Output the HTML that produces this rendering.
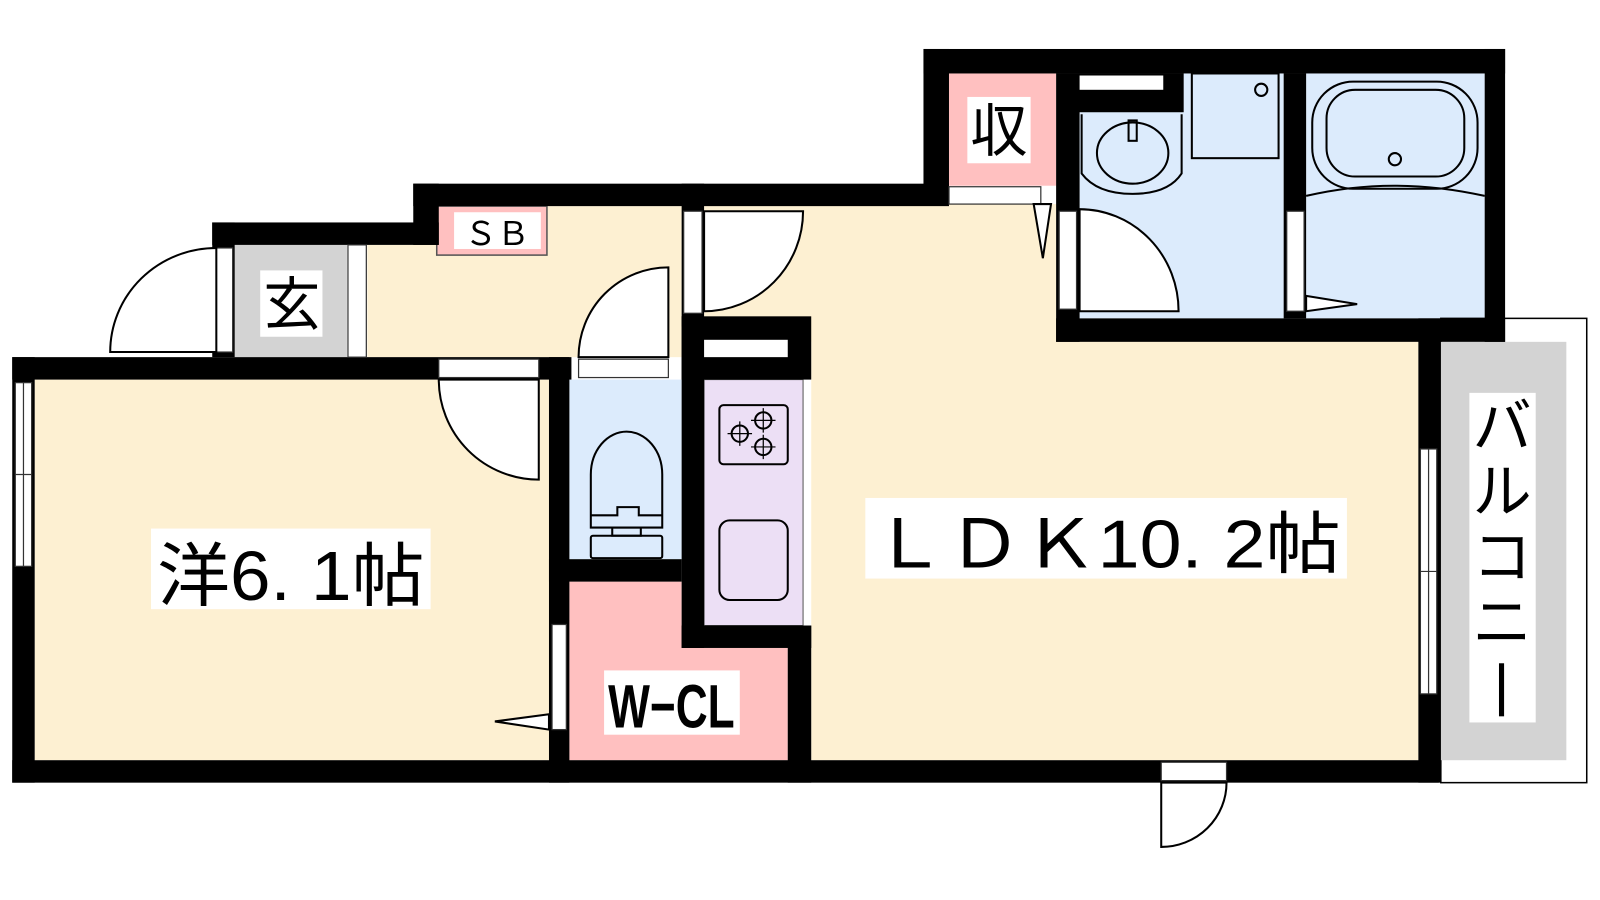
<!DOCTYPE html>
<html><head><meta charset="utf-8"><style>
html,body{margin:0;padding:0;background:#fff;}
svg{display:block}
text{font-family:"Liberation Sans","Noto Sans CJK JP",sans-serif;fill:#000}
</style></head><body>
<svg width="1600" height="900" viewBox="0 0 1568 882" xmlns="http://www.w3.org/2000/svg">
<rect width="1568" height="882" fill="#fff"/>
<!-- floors -->
<g>
<rect x="34" y="372" width="504" height="373" fill="#fdf0d2"/>
<rect x="430" y="202" width="238" height="148" fill="#fdf0d2"/>
<rect x="360" y="240" width="80" height="110" fill="#fdf0d2"/>
<rect x="230" y="240" width="110" height="110" fill="#d3d3d3"/>
<rect x="690" y="200" width="345" height="135" fill="#fdf0d2"/>
<rect x="795" y="330" width="595" height="415" fill="#fdf0d2"/>
<rect x="558" y="372" width="110" height="176" fill="#dcebfc"/>
<path d="M558 570 H668 V635 H772 V745 H558 Z" fill="#ffc0c0"/>
<rect x="690" y="372" width="97" height="241" fill="#ecdff5" stroke="#555" stroke-width="1"/>
<rect x="928" y="72" width="107" height="110" fill="#ffc0c0"/>
<rect x="1058" y="72" width="200" height="240" fill="#dcebfc"/>
<rect x="1280" y="72" width="175" height="240" fill="#dcebfc"/>
<rect x="1412" y="312" width="143" height="455" fill="#fff" stroke="#000" stroke-width="1.5"/>
<rect x="1412" y="335" width="123" height="410" fill="#d3d3d3"/>
<rect x="428" y="202" width="108" height="48" fill="#ffc0c0" stroke="#555" stroke-width="1.5"/>
</g>
<!-- walls -->
<g fill="#000">
<rect x="12" y="745" width="1398" height="22"/>
<rect x="12" y="350" width="22" height="417"/>
<rect x="12" y="350" width="548" height="22"/>
<rect x="538" y="350" width="20" height="417"/>
<rect x="538" y="548" width="130" height="22"/>
<rect x="668" y="310" width="22" height="325"/>
<rect x="668" y="310" width="127" height="62"/>
<rect x="668" y="613" width="127" height="22"/>
<rect x="772" y="613" width="23" height="154"/>
<rect x="208" y="218" width="22" height="132"/>
<rect x="208" y="218" width="222" height="22"/>
<rect x="405" y="180" width="25" height="60"/>
<rect x="405" y="180" width="525" height="22"/>
<rect x="668" y="180" width="22" height="140"/>
<rect x="905" y="48" width="570" height="24"/>
<rect x="905" y="48" width="25" height="152"/>
<rect x="1035" y="72" width="23" height="263"/>
<rect x="1035" y="312" width="440" height="23"/>
<rect x="1455" y="48" width="20" height="287"/>
<rect x="1258" y="72" width="22" height="240"/>
<rect x="1390" y="312" width="22" height="455"/>
<rect x="1040" y="72" width="120" height="38"/>
</g>
<!-- openings (white) -->
<g fill="#fff" stroke="#333" stroke-width="1.2">
<rect x="15" y="375" width="16" height="180"/>
<line x1="23" y1="375" x2="23" y2="555"/>
<line x1="15" y1="465" x2="31" y2="465"/>
<rect x="212" y="243" width="16" height="102"/>
<rect x="341" y="240" width="18" height="110"/>
<rect x="430" y="352" width="98" height="18"/>
<rect x="567" y="352" width="88" height="18"/>
<rect x="670" y="207" width="18" height="100"/>
<rect x="690" y="333" width="82" height="17" stroke="none"/>
<rect x="541" y="612" width="14" height="103"/>
<rect x="930" y="183" width="90" height="17"/>
<rect x="1058" y="74" width="82" height="14" stroke="none"/>
<rect x="1038" y="207" width="17" height="96"/>
<rect x="1261" y="207" width="17" height="98"/>
<rect x="1392" y="440" width="16" height="240"/>
<line x1="1400" y1="440" x2="1400" y2="680"/>
<line x1="1392" y1="560" x2="1408" y2="560"/>
<rect x="1138" y="747" width="64" height="18"/>
</g>
<!-- door swings -->
<g fill="#fff" stroke="#000" stroke-width="2">
<path d="M212 243 A104 102 0 0 0 108 345 H212 Z"/>
<path d="M528 470 A98 98 0 0 1 430 372 H528 Z"/>
<path d="M655 262 A88 88 0 0 0 567 350 H655 Z"/>
<path d="M787 207 A97 98 0 0 1 690 305 V207 Z"/>
<path d="M1058 205 A97 100 0 0 1 1155 305 H1058 Z"/>
<path d="M1138 830 A64 63 0 0 0 1202 767 H1138 Z"/>
<path d="M538 700 L485 707 L538 715 Z"/>
<path d="M1013 200 L1022 253 L1030 200 Z"/>
<path d="M1280 290 L1330 298 L1280 305 Z"/>
</g>
<!-- fixtures -->
<g fill="none" stroke="#000" stroke-width="2">
<rect x="705" y="397" width="67" height="58" rx="4"/>
<circle cx="725" cy="425" r="8"/><circle cx="748" cy="412" r="8"/><circle cx="748" cy="438" r="8"/>
<path d="M725 413v24M713 425h24M748 400v24M736 412h24M748 426v24M736 438h24" stroke-width="1.2"/>
<rect x="705" y="510" width="67" height="78" rx="10"/>
<path d="M579 517 V465 A35 42 0 0 1 649 465 V517 Z"/>
<path d="M579 505 H605 V497 H626 V505 H649"/>
<rect x="579" y="525" width="70" height="22" rx="2"/>
<rect x="600" y="517" width="28" height="8"/>
<path d="M1060 112 V170 Q1075 190 1110 190 Q1145 190 1158 170 V112"/>
<ellipse cx="1110" cy="150" rx="35" ry="30"/>
<rect x="1106" y="118" width="8" height="20"/>
<rect x="1168" y="72" width="85" height="83"/>
<circle cx="1236" cy="88" r="6"/>
<rect x="1286" y="80" width="162" height="105" rx="40"/>
<rect x="1300" y="88" width="135" height="85" rx="28"/>
<circle cx="1367" cy="156" r="6"/>
<path d="M1280 192 Q1365 172 1455 192"/>
</g>
<!-- labels -->
<g>
<rect x="445" y="208" width="85" height="36" fill="#fff"/>
<text x="487" y="240" font-size="32" text-anchor="middle">ＳＢ</text>
<rect x="255" y="265" width="61" height="65" fill="#fff"/>
<text x="286" y="318" font-size="56" text-anchor="middle">玄</text>
<rect x="948" y="95" width="62" height="65" fill="#fff"/>
<text x="979" y="148" font-size="56" text-anchor="middle">収</text>
<rect x="148" y="518" width="274" height="79" fill="#fff"/>
<text x="285" y="588" font-size="68" text-anchor="middle" textLength="262" lengthAdjust="spacingAndGlyphs">洋6. 1帖</text>
<rect x="848" y="488" width="472" height="79" fill="#fff"/>
<text x="1084" y="556" font-size="66" text-anchor="middle" textLength="460" lengthAdjust="spacingAndGlyphs">ＬＤＫ10. 2帖</text>
<rect x="592" y="657" width="133" height="63" fill="#fff"/>
<text x="658" y="713" font-size="60" font-weight="bold" text-anchor="middle" textLength="124" lengthAdjust="spacingAndGlyphs">W−CL</text>
<rect x="1440" y="385" width="65" height="323" fill="#fff"/>
<text x="1472" y="438" font-size="58" text-anchor="middle">バ</text>
<text x="1472" y="502" font-size="58" text-anchor="middle">ル</text>
<text x="1472" y="566" font-size="58" text-anchor="middle">コ</text>
<text x="1472" y="630" font-size="58" text-anchor="middle">ニ</text>
<rect x="1469" y="650" width="5" height="52" fill="#000"/>
</g>
</svg>
</body></html>
